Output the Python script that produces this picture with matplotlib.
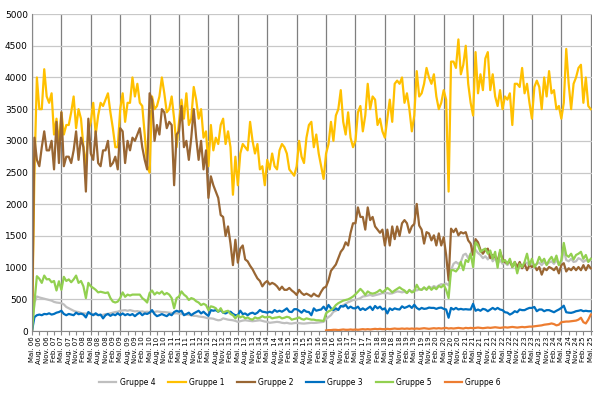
import numpy as np
import matplotlib
matplotlib.use("Agg")
import matplotlib.pyplot as plt

# monthly values, Mai 06 .. Mai 25 (one row = Mai..Apr)
gruppe_1 = [
    0, 2500, 4000, 3500, 3500, 4130, 3700, 3600, 3750, 3100, 3350, 2950,
    3450, 3100, 3250, 3250, 3450, 3700, 3200, 3500, 3350, 2900, 2600, 3150,
    3300, 3600, 3100, 3400, 3600, 3550, 3650, 3750, 3450, 3200, 2900, 2900,
    3500, 3750, 3300, 3600, 3600, 4000, 3700, 3900, 3600, 3550, 3100, 2600,
    2500, 3700, 3500, 3550, 3700, 4000, 3750, 3450, 3500, 3700, 3350, 2900,
    3300, 3650, 3350, 3750, 3250, 3350, 3850, 3650, 3350, 3500, 3050, 3150,
    2600, 3250, 2850, 3050, 2950, 3250, 3350, 2950, 3150, 2900, 2150, 2750,
    2300, 2800, 2950, 2900, 2850, 3300, 3000, 2800, 2950, 2550, 2600, 2300,
    2700, 2550, 2800, 2600, 2550, 2850, 2950, 2900, 2800, 2550, 2500, 2450,
    2600, 3000, 2750, 2650, 3050, 3250, 3300, 2900, 3100, 2800, 2600, 2400,
    2800, 2950, 3300, 3000, 3400, 3500, 3800, 3300, 3100, 3450, 3050, 2900,
    3000, 3450, 3550, 3150, 3400, 3900, 3500, 3700, 3650, 3250, 3350, 3150,
    3050, 3350, 3650, 3300, 3900, 3950, 3900, 4000, 3600, 3750, 3500, 3150,
    3400, 4100, 3700, 3750, 3900, 4150, 4000, 3900, 4050, 3700, 3500, 3600,
    3800, 3650, 2200, 4250, 4250, 4150, 4600, 4050, 4200, 4500, 3900, 3600,
    3400, 4400, 3750, 4050, 3800, 4300, 4400, 3800, 4050, 3700, 3550, 3800,
    3500, 3700, 3650, 3750, 3250, 3900, 3900, 3850, 4150, 3750, 3900, 3600,
    3350, 3850, 3950, 3850, 3500, 4000, 3700, 4100, 3750, 3800, 3500, 3550,
    3350, 3600, 4450, 3900, 3500, 3900, 4000, 4150, 4200, 3600, 4000, 3550,
    3500,
]

gruppe_2 = [
    0, 3050, 2700, 2600, 2900, 3150, 2850, 2850, 3000, 2550, 3300, 2650,
    3450, 2600, 2750, 2750, 2650, 2850, 3150, 2700, 3050, 2900, 2200, 3350,
    2800, 2700, 3150, 2650, 2600, 2850, 2850, 3000, 2600, 2650, 2750, 2550,
    3200, 3150, 2650, 3000, 2850, 3050, 3000, 3100, 3200, 2900, 2700, 2550,
    3750, 3650, 3000, 3250, 3100, 3500, 3450, 3200, 3300, 3250, 2300, 3100,
    3150, 3550, 2900, 3000, 2700, 3050, 3500, 3050, 2700, 3000, 2550, 2850,
    2100, 2440, 2300, 2200, 2100, 1830, 1800, 1500, 1650, 1380, 1040, 1440,
    1080, 1300, 1350, 1130, 1100, 1030, 975, 900, 830, 790, 705, 760,
    790, 735, 760, 740, 705, 650, 700, 650, 650, 680, 640, 610,
    570, 650, 600, 570, 590, 570, 545, 590, 560, 545, 620, 680,
    700, 800, 950, 1000, 1050, 1150, 1250, 1300, 1400, 1350, 1550, 1700,
    1700, 1950, 1800, 1800, 1600, 1950, 1750, 1800, 1650, 1600, 1550, 1600,
    1350, 1600, 1350, 1650, 1450, 1650, 1500, 1700, 1750, 1700, 1550, 1650,
    1690, 2005, 1665, 1600, 1380, 1560, 1540, 1430, 1510, 1350, 1540, 1350,
    1480, 1200, 800, 1615, 1560, 1615, 1510, 1560, 1540, 1560, 1430, 1380,
    1200, 1450, 1400, 1280, 1220, 1280, 1300, 1150, 1200, 1170, 1110, 1250,
    1140, 1090, 1070, 1110, 1010, 1090, 1010, 1090, 990, 1060, 960, 1040,
    1010, 1040, 960, 1010, 890, 990, 960, 1010, 990, 960, 1010, 910,
    1040, 1070, 940, 990, 960, 1010, 960, 1010, 960, 1040, 960, 1040,
    990,
]

gruppe_3 = [
    0, 220, 250, 260, 250, 270, 265, 280, 260, 270, 290, 300,
    320, 270, 250, 270, 260, 250, 290, 265, 275, 260, 215, 300,
    270, 250, 280, 250, 260, 200, 250, 270, 240, 265, 250, 280,
    250, 278, 250, 268, 250, 268, 235, 268, 290, 250, 278, 270,
    290, 330, 268, 235, 250, 268, 250, 235, 268, 250, 300, 320,
    305, 320, 250, 268, 290, 250, 278, 300, 320, 278, 305, 268,
    240, 330, 320, 330, 305, 332, 290, 278, 300, 305, 270, 250,
    250, 321, 268, 278, 250, 278, 290, 268, 290, 332, 305, 300,
    290, 305, 290, 332, 305, 321, 305, 330, 358, 305, 300, 345,
    345, 321, 290, 332, 305, 300, 250, 358, 321, 332, 340, 385,
    332, 412, 358, 332, 358, 332, 396, 385, 412, 358, 385, 360,
    358, 385, 332, 358, 332, 358, 385, 332, 396, 358, 385, 340,
    358, 278, 358, 332, 358, 345, 340, 390, 365, 380, 400, 365,
    415, 365, 340, 365, 350, 355, 370, 365, 365, 350, 365, 370,
    350, 340, 210, 365, 340, 365, 340, 350, 340, 345, 340, 340,
    430, 320, 340, 320, 350, 340, 313, 340, 365, 340, 365, 340,
    330, 297, 290, 260, 280, 313, 297, 340, 330, 330, 350, 365,
    365, 380, 313, 340, 340, 313, 330, 330, 313, 297, 320, 340,
    365, 400, 297, 290, 287, 297, 313, 320, 330, 313, 320, 313,
    313,
]

gruppe_4 = [
    0, 450, 545, 530, 520, 510, 500, 490, 480, 460, 450, 445,
    440, 420, 380, 360, 340, 320, 305, 300, 285, 280, 275, 280,
    270, 268, 260, 255, 250, 255, 268, 270, 280, 290, 300, 305,
    320, 325, 330, 320, 330, 320, 310, 315, 305, 310, 300, 305,
    300, 305, 300, 310, 305, 300, 300, 295, 290, 285, 278, 280,
    275, 268, 268, 260, 255, 250, 240, 240, 230, 225, 220, 210,
    200, 200, 195, 180, 170, 175, 200, 190, 180, 175, 170, 160,
    145, 155, 165, 170, 165, 160, 155, 160, 165, 170, 160, 150,
    145, 130, 135, 140, 145, 140, 130, 125, 130, 120, 118, 125,
    130, 125, 120, 118, 122, 125, 130, 128, 130, 135, 140, 145,
    190, 220, 250, 305, 320, 350, 385, 410, 430, 455, 470, 490,
    490, 505, 520, 545, 550, 560, 570, 555, 565, 575, 585, 600,
    595, 600, 590, 595, 610, 625, 620, 610, 620, 600, 640, 620,
    650, 640, 660, 650, 680, 660, 700, 680, 710, 690, 720, 740,
    730, 750, 720, 960, 1060, 1090, 1060, 1090, 1200, 1220, 1150, 1220,
    1350, 1280, 1230, 1200, 1150, 1180, 1130, 1200, 1100, 1150, 1060, 1120,
    1060, 1080, 1040, 1090, 1050, 1060, 1000, 1050, 1030, 1060, 1080, 1020,
    1070, 1040, 1060, 1080, 1040, 1090, 1050, 1080, 1100, 1060, 1120, 1050,
    1080, 1280, 1120, 1100, 1140, 1090, 1100, 1150, 1130, 1090, 1120, 1100,
    1120,
]

gruppe_5 = [
    0, 450, 865, 825, 760, 875, 815, 820, 770, 790, 640, 785,
    650, 855, 790, 815, 770, 815, 875, 760, 790, 705, 520, 760,
    705, 680, 650, 610, 620, 610, 600, 610, 520, 465, 450, 465,
    520, 610, 540, 575, 560, 575, 575, 575, 575, 520, 490, 450,
    600, 640, 575, 610, 590, 625, 575, 600, 575, 520, 360, 520,
    545, 625, 575, 545, 490, 520, 505, 470, 450, 410, 430, 410,
    330, 390, 380, 360, 305, 360, 290, 310, 320, 270, 250, 200,
    250, 215, 235, 200, 215, 190, 180, 215, 200, 210, 235, 215,
    220, 225, 200, 210, 215, 225, 200, 210, 225, 215, 180, 190,
    200, 215, 190, 180, 200, 190, 180, 180, 170, 170, 165, 160,
    280, 310, 330, 360, 410, 440, 460, 480, 490, 500, 520, 545,
    580, 620, 665, 625, 570, 625, 600, 590, 600, 620, 650, 610,
    640, 680, 650, 610, 640, 665, 690, 660, 640, 600, 650, 610,
    625, 730, 660, 650, 690, 650, 700, 650, 690, 660, 710, 690,
    730, 650, 520, 960, 960, 940, 990, 1090, 960, 1120, 1090, 1220,
    1010, 1400, 1350, 1250, 1280, 1300, 1220, 1270, 1140, 1250, 1000, 1280,
    1090, 1120, 1060, 1140, 1010, 1090, 910, 1060, 1010, 1090, 1220, 1040,
    1140, 1010, 1060, 1170, 1090, 1140, 1040, 1120, 1170, 1090, 1190, 1040,
    1120, 1390, 1200, 1170, 1220, 1130, 1200, 1220, 1250, 1140, 1200, 1090,
    1140,
]

# Gruppe 6 only exists from Mai 16 on
gruppe_6 = [None] * 120 + [
    10, 15, 15, 20, 20, 15, 20, 25, 20, 20, 25, 20,
    25, 20, 25, 30, 25, 30, 25, 30, 35, 30, 35, 30,
    30, 35, 30, 35, 40, 35, 35, 40, 35, 40, 35, 40,
    35, 40, 35, 40, 45, 40, 35, 40, 45, 40, 45, 40,
    45, 50, 40, 45, 40, 45, 50, 45, 40, 50, 45, 50,
    45, 50, 55, 50, 45, 50, 55, 50, 55, 60, 55, 50,
    55, 60, 55, 60, 65, 60, 55, 60, 65, 60, 65, 70,
    70, 75, 80, 85, 90, 100, 105, 110, 120, 110, 90, 100,
    140, 145, 150, 150, 155, 160, 165, 180, 210, 140, 120, 180,
    260,
]

month_names = ['Mai', 'Aug', 'Nov', 'Feb']
series = [
    ('Gruppe 4', gruppe_4, '#bfbfbf'),
    ('Gruppe 1', gruppe_1, '#ffc000'),
    ('Gruppe 2', gruppe_2, '#996633'),
    ('Gruppe 3', gruppe_3, '#0070c0'),
    ('Gruppe 5', gruppe_5, '#92d050'),
    ('Gruppe 6', gruppe_6, '#ed7d31'),
]

n_months = len(gruppe_1)
x = np.arange(n_months)

# tick labels every 3 months: Mai. 06, Aug. 06, Nov. 06, Feb. 07 ...
tick_pos = np.arange(0, n_months, 3)
tick_labels = []
for p in tick_pos:
    year = 6 + (p + 4) // 12
    tick_labels.append(f"{month_names[(p // 3) % 4]}. {year:02d}")

fig = plt.figure(figsize=(6.0, 3.96), dpi=100)
ax = fig.add_axes([0.0533, 0.164, 0.9333, 0.8005])

for name, vals, color in series:
    y = np.array([np.nan if v is None else v for v in vals], dtype=float)
    ax.plot(x, y, color=color, lw=1.6, label=name, solid_joinstyle='round')

ax.set_xlim(0, n_months - 1 + 0.5)
ax.set_ylim(0, 5000)
ax.set_yticks(np.arange(0, 5001, 500))
ax.tick_params(axis='y', length=0, labelsize=6.5, pad=3)
ax.set_xticks(tick_pos)
ax.set_xticklabels(tick_labels, rotation=90, fontsize=5)
ax.tick_params(axis='x', length=3, color='#888888', pad=1)

# light horizontal grid, darker vertical line at every Mai
ax.grid(axis='y', color='#c8c8c8', lw=0.9)
for yr in range(0, n_months, 12):
    ax.axvline(yr, color='#7f7f7f', lw=0.9, zorder=0.5)
ax.set_axisbelow(True)

for side in ['top', 'right']:
    ax.spines[side].set_visible(False)
ax.spines['left'].set_color('#888888')
ax.spines['bottom'].set_color('#888888')

fig.legend(loc='center', bbox_to_anchor=(0.5, 0.035), ncol=6, frameon=False,
           fontsize=5.5, handlelength=2.3, columnspacing=1.7, handletextpad=0.4)

fig.savefig('out.png', dpi=100)
